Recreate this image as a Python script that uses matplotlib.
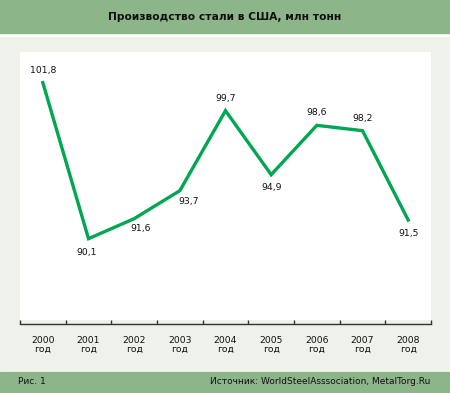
import matplotlib.pyplot as plt
from matplotlib.patches import Rectangle

years = ["2000", "2001", "2002", "2003", "2004", "2005", "2006", "2007", "2008"]
output = [101.8, 90.1, 91.6, 93.7, 99.7, 94.9, 98.6, 98.2, 91.5]
value_labels = ["101,8", "90,1", "91,6", "93,7", "99,7", "94,9", "98,6", "98,2", "91,5"]

# label placement: (dx, dy) in points
offsets = [(0, 9), (-1, -10), (5, -7), (6, -8), (0, 9), (0, -9), (0, 9), (0, 9), (0, -10)]

W, H = 450, 393
fig = plt.figure(figsize=(W / 100, H / 100), dpi=100)
fig.patch.set_facecolor("white")

band = "#8db58a"
panel = "#eef2eb"

def px_rect(x, y, w, h, color):
    fig.patches.append(Rectangle((x / W, 1 - (y + h) / H), w / W, h / H,
                                 transform=fig.transFigure, color=color, zorder=-5))

px_rect(0, 0, W, 33, band)
px_rect(0, 37, W, 333, panel)
px_rect(0, 372, W, 21, band)

fig.text(0.5, 1 - 17 / H, "Производство стали в США, млн тонн", ha="center", va="center",
         fontsize=7.7, fontweight="bold", color="#111111")
fig.text(18 / W, 1 - 382 / H, "Рис. 1", ha="left", va="center", fontsize=6.5, color="#111111")
fig.text(430 / W, 1 - 382 / H, "Источник: WorldSteelAsssociation, MetalTorg.Ru", ha="right",
         va="center", fontsize=6.5, color="#111111")

ax = fig.add_axes([20 / W, 1 - 320 / H, 411 / W, 268 / H])
ax.set_zorder(5)
ax.set_facecolor("white")
x = list(range(len(years)))
ax.plot(x, output, color="#00a651", linewidth=2.4, solid_joinstyle="miter")
for xi, v, lab, (dx, dy) in zip(x, output, value_labels, offsets):
    ax.annotate(lab, (xi, v), xytext=(dx, dy), textcoords="offset points",
                ha="center", va="center", fontsize=6.7, color="#111111")

ax.set_xlim(-0.5, len(years) - 0.5)
ax.set_ylim(84, 104.1)
for s in ["top", "right", "left"]:
    ax.spines[s].set_visible(False)
ax.spines["bottom"].set_position(("outward", 3))
ax.spines["bottom"].set_color("#333333")
ax.spines["bottom"].set_linewidth(1)
ax.set_yticks([])
ax.set_xticks(x)
ax.set_xticklabels([y + "\nгод" for y in years], fontsize=6.7, color="#111111", linespacing=1.0)
ax.set_xticks([i - 0.5 for i in range(len(years) + 1)], minor=True)
ax.tick_params(axis="x", which="major", length=0, pad=8.5)
ax.tick_params(axis="x", which="minor", direction="in", length=3, width=1, color="#333333")

fig.savefig("out.png", dpi=100, facecolor=fig.get_facecolor())
